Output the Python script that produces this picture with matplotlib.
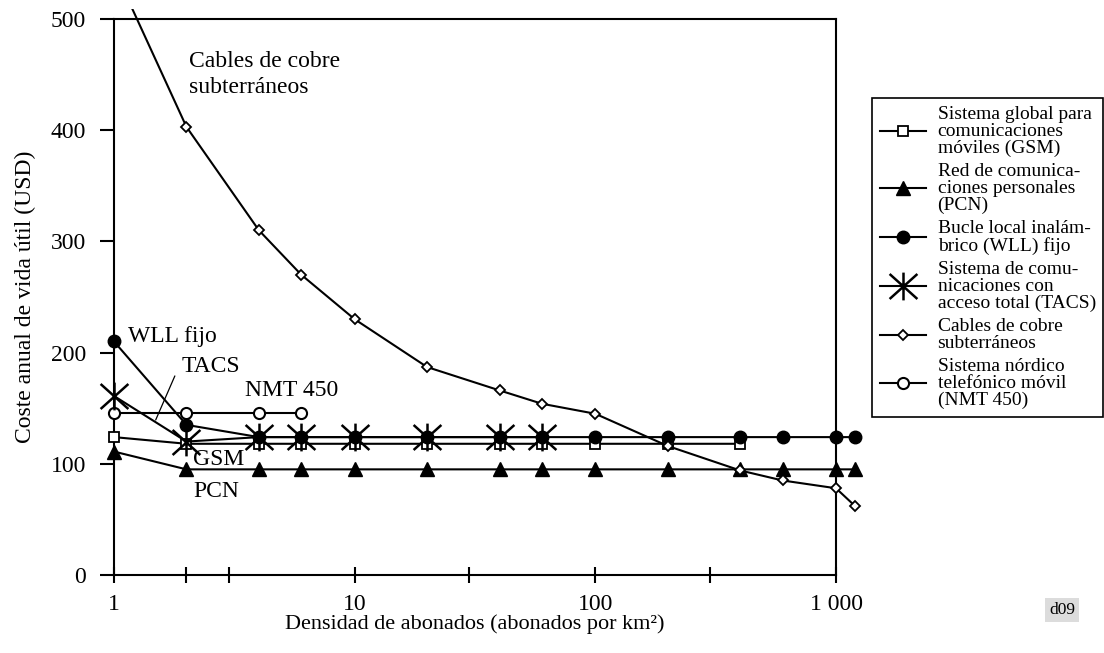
import matplotlib
matplotlib.use("Agg")
import matplotlib.pyplot as plt
from matplotlib.path import Path
from matplotlib.patches import Rectangle
from matplotlib.font_manager import FontProperties

plt.rcParams['font.family'] = ['Liberation Serif', 'DejaVu Serif']

# ---------------- data ----------------
x_full = [1, 2, 4, 6, 10, 20, 40, 60, 100, 200, 400, 600, 1000, 1200]

gsm_x = [1, 2, 4, 6, 10, 20, 40, 60, 100, 200, 400]
gsm_y = [124, 118, 118, 118, 118, 118, 118, 118, 118, 118, 118]

pcn_x = x_full
pcn_y = [111, 95, 95, 95, 95, 95, 95, 95, 95, 95, 95, 95, 95, 95]

wll_x = x_full
wll_y = [210, 135, 124, 124, 124, 124, 124, 124, 124, 124, 124, 124, 124, 124]

tacs_x = [1, 2, 4, 6, 10, 20, 40, 60]
tacs_y = [161, 120, 124, 124, 124, 124, 124, 124]

cobre_x = x_full
cobre_y = [545, 403, 310, 270, 230, 187, 166, 154, 145, 116, 94, 85, 78, 62]

nmt_x = [1, 2, 4, 6]
nmt_y = [146, 146, 146, 146]

x_ticks = [1, 2, 3, 10, 30, 100, 300, 1000]
x_ticklabels = ['1', '', '', '10', '', '100', '', '1 000']
y_ticks = [0, 100, 200, 300, 400, 500]

labels = [
    "Sistema global para\ncomunicaciones\nmóviles (GSM)",
    "Red de comunica-\nciones personales\n(PCN)",
    "Bucle local inalám-\nbrico (WLL) fijo",
    "Sistema de comu-\nnicaciones con\nacceso total (TACS)",
    "Cables de cobre\nsubterráneos",
    "Sistema nórdico\ntelefónico móvil\n(NMT 450)",
]

# ---------------- figure ----------------
fig = plt.figure(figsize=(11.04, 6.53), dpi=100)
ax = fig.add_axes([0.10326, 0.11945, 0.65399, 0.85145])
ax.set_xscale('log')
ax.set_xlim(1, 1000)
ax.set_ylim(0, 500)

for s in ax.spines.values():
    s.set_linewidth(1.5)

ax.set_xticks(x_ticks)
ax.set_xticklabels(x_ticklabels)
ax.xaxis.set_minor_locator(matplotlib.ticker.NullLocator())
ax.set_yticks(y_ticks)
ax.tick_params(axis='y', direction='out', length=10, width=1.5, pad=10, labelsize=17)
ax.tick_params(axis='x', direction='inout', length=11.5, width=1.5, pad=8, labelsize=17)

asterisk = Path([(0, -1), (0, 1), (-1, -0.9), (1, 0.9), (-1, 0.9), (1, -0.9)],
                [Path.MOVETO, Path.LINETO, Path.MOVETO, Path.LINETO, Path.MOVETO, Path.LINETO])

lw = 1.5
h_gsm, = ax.plot(gsm_x, gsm_y, color='black', lw=lw, marker='s', ms=7,
                 mfc='white', mec='black', mew=1.3, clip_on=False, zorder=3)
h_pcn, = ax.plot(pcn_x, pcn_y, color='black', lw=lw, marker='^', ms=10,
                 mfc='black', mec='black', clip_on=False, zorder=3)
h_wll, = ax.plot(wll_x, wll_y, color='black', lw=lw, marker='o', ms=9,
                 mfc='black', mec='black', clip_on=False, zorder=3)
h_tacs, = ax.plot(tacs_x, tacs_y, color='black', lw=lw, marker=asterisk, ms=20,
                  mfc='none', mec='black', mew=1.8, clip_on=False, zorder=4)
h_cobre, = ax.plot(cobre_x, cobre_y, color='black', lw=lw, marker='D', ms=5.5,
                   mfc='white', mec='black', mew=1.3, zorder=3)
clip_rect = Rectangle((-0.1, -0.1), 1.5, 1.118, transform=ax.transAxes)
h_cobre.set_clip_path(clip_rect)
h_nmt, = ax.plot(nmt_x, nmt_y, color='black', lw=lw, marker='o', ms=8,
                 mfc='white', mec='black', mew=1.5, clip_on=False, zorder=3)

# annotations
fs = 17
ax.text(2.055, 457, 'Cables de cobre', fontsize=fs, va='baseline', ha='left')
ax.text(2.055, 433.7, 'subterráneos', fontsize=fs, va='baseline', ha='left')
ax.text(1.143, 209.8, 'WLL fijo', fontsize=fs, va='baseline', ha='left')
ax.text(1.91, 182.8, 'TACS', fontsize=fs, va='baseline', ha='left')
ax.text(3.50, 161, 'NMT 450', fontsize=fs, va='baseline', ha='left')
ax.text(2.136, 98.9, 'GSM', fontsize=fs, va='baseline', ha='left')
ax.text(2.136, 70.4, 'PCN', fontsize=fs, va='baseline', ha='left')
ax.annotate('', xy=(1.49, 139.4), xytext=(1.79, 179),
            arrowprops=dict(arrowstyle='-', lw=0.9, color='black',
                            shrinkA=0, shrinkB=0))

ax.set_xlabel('Densidad de abonados (abonados por km²)', fontsize=16)
ax.xaxis.set_label_coords(0.5, -0.070)
ax.set_ylabel('Coste anual de vida útil (USD)', fontsize=17)
ax.yaxis.set_label_coords(-0.108, 0.5)

# legend
leg = fig.legend([h_gsm, h_pcn, h_wll, h_tacs, h_cobre, h_nmt], labels,
                 loc='lower left', bbox_to_anchor=(0.7899, 0.3614, 0.2092, 0.5),
                 bbox_transform=fig.transFigure, mode='expand',
                 prop=FontProperties(family='Liberation Serif', size=14),
                 frameon=True, fancybox=False, framealpha=1, edgecolor='black',
                 borderpad=0.4, handlelength=2.4, handletextpad=0.57,
                 labelspacing=0.3, borderaxespad=0, numpoints=1)
leg.get_frame().set_linewidth(1.2)
for t in leg.get_texts():
    t.set_linespacing(1.0)

fig.text(1062 / 1104, 1 - 610 / 653, 'd09', fontsize=12.5, ha='center', va='center',
         bbox=dict(boxstyle='square,pad=0.25', fc='#dcdcdc', ec='none'))

fig.savefig('out.png', dpi=100)
